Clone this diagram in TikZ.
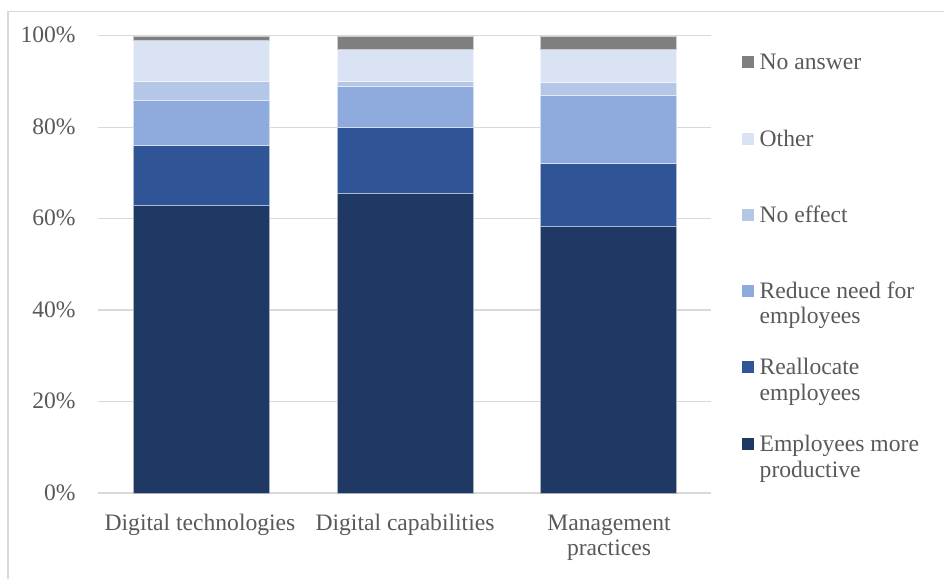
\documentclass[tikz,border=0pt]{standalone}
\usepackage{fontspec}
\setmainfont{Liberation Serif}
\usepackage{tikz}
\definecolor{noanswer}{HTML}{7F7F7F}
\definecolor{other}{HTML}{DAE3F3}
\definecolor{noeffect}{HTML}{B4C7E7}
\definecolor{reduce}{HTML}{8FAADC}
\definecolor{realloc}{HTML}{2F5597}
\definecolor{productive}{HTML}{203864}
\definecolor{axistext}{HTML}{595959}
\definecolor{gridgray}{HTML}{D9D9D9}
\newcommand{\createseg}[4]{\filldraw[fill=#4, draw=white!60!#4, line width=0.2pt] ( #1 - 68 , {493 - 4.573*#2} ) rectangle ( #1 + 68 , {493 - 4.573*#3} );}
\newcommand{\createtick}[1]{\draw[gridgray, line width=0.65pt] ( 98 , {493 - 4.573*#1} ) -- ( 711 , {493 - 4.573*#1} ); \node[anchor=base east, inner sep=0pt] (tick#1) at ( 76 , {500.2 - 4.573*#1} ) {#1\%};}
\newcommand{\createkey}[5]{\node[fill=#2, minimum size=6pt, inner sep=0pt] (#1box) at ( 748 , #3 ) {}; \node[anchor=base west, inner sep=0pt, align=left] (#1) at ( 759.3 , #3 + 7.5 + 25.5*#4 ) {#5};}

\begin{document}
\begin{tikzpicture}[x=0.5pt, y=-0.5pt, font=\fontsize{11.8}{12.75}\selectfont, text=axistext]
        \useasboundingbox (0,0) rectangle (944,579);
        \draw[gridgray, line width=0.7pt] (8,579) -- (8,11.7) -- (944,11.7);
        % gridlines and percent labels
        \createtick{0}
        \createtick{20}
        \createtick{40}
        \createtick{60}
        \createtick{80}
        \createtick{100}
        % Digital technologies
        \createseg{201}{0}{63}{productive}
        \createseg{201}{63}{76}{realloc}
        \createseg{201}{76}{86}{reduce}
        \createseg{201}{86}{90}{noeffect}
        \createseg{201}{90}{99}{other}
        \createseg{201}{99}{100}{noanswer}
        % Digital capabilities
        \createseg{405}{0}{65.5}{productive}
        \createseg{405}{65.5}{79.9}{realloc}
        \createseg{405}{79.9}{88.9}{reduce}
        \createseg{405}{88.9}{90}{noeffect}
        \createseg{405}{90}{97}{other}
        \createseg{405}{97}{100}{noanswer}
        % Management practices
        \createseg{608.5}{0}{58.3}{productive}
        \createseg{608.5}{58.3}{72.2}{realloc}
        \createseg{608.5}{72.2}{87}{reduce}
        \createseg{608.5}{87}{89.9}{noeffect}
        \createseg{608.5}{89.9}{97}{other}
        \createseg{608.5}{97}{100}{noanswer}
        % category labels (base of a two-line node is its last line)
        \node[anchor=base] (catdt) at (200,530.7) {Digital technologies};
        \node[anchor=base] (catdc) at (405,530.7) {Digital capabilities};
        \node[anchor=base, align=center] (catmp) at (609,555.5) {Management\\practices};
        % legend
        \createkey{keyna}{noanswer}{62}{0}{No answer}
        \createkey{keyother}{other}{139.3}{0}{Other}
        \createkey{keyne}{noeffect}{215.3}{0}{No effect}
        \createkey{keyreduce}{reduce}{290.8}{1}{Reduce need for\\employees}
        \createkey{keyrealloc}{realloc}{367}{1}{Reallocate\\employees}
        \createkey{keyprod}{productive}{444}{1}{Employees more\\productive}
    \end{tikzpicture}
\end{document}
